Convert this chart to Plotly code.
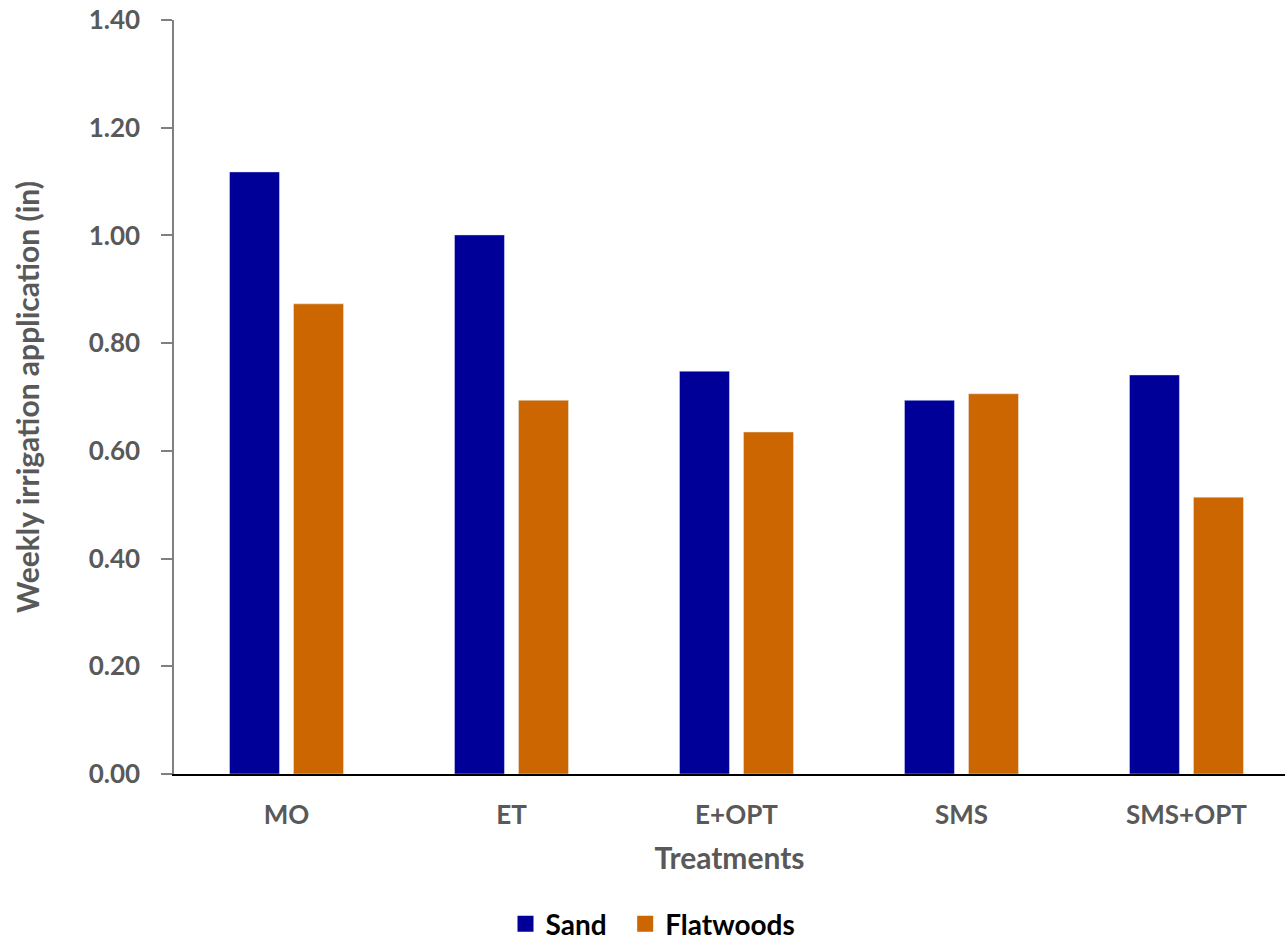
import plotly.graph_objects as go

# Weekly irrigation application by treatment and soil type
treatments = ["MO", "ET", "E+OPT", "SMS", "SMS+OPT"]
sand = [1.118, 1.001, 0.748, 0.694, 0.741]
flatwoods = [0.873, 0.694, 0.635, 0.706, 0.514]
y_ticks = [0.0, 0.2, 0.4, 0.6, 0.8, 1.0, 1.2, 1.4]

FONT = "Lato, Open Sans, sans-serif"
GRAY = "#595959"
SAND_COLOR = "#000099"
FLAT_COLOR = "#CC6600"

fig = go.Figure()
fig.add_trace(go.Bar(name="Sand", x=treatments, y=sand, marker_color=SAND_COLOR, showlegend=False))
fig.add_trace(go.Bar(name="Flatwoods", x=treatments, y=flatwoods, marker_color=FLAT_COLOR, showlegend=False))

# legend entries with larger square swatches (padded with no-break spaces for spacing)
for name, color in [("Sand\u00a0\u00a0", SAND_COLOR), ("Flatwoods", FLAT_COLOR)]:
    fig.add_trace(go.Scatter(
        x=[None], y=[None], mode="markers", name=name,
        marker=dict(symbol="square", size=16, color=color),
    ))

fig.update_layout(
    width=1285,
    height=940,
    margin=dict(l=174, r=0, t=20, b=166, autoexpand=False),
    plot_bgcolor="white",
    paper_bgcolor="white",
    barmode="group",
    bargap=0.431,
    bargroupgap=0.219,
    font=dict(family=FONT, color=GRAY),
    showlegend=True,
    legend=dict(
        orientation="h",
        x=653 / 1285,
        xanchor="center",
        xref="container",
        yref="container",
        y=16 / 940,
        yanchor="middle",
        font=dict(size=28, color="#000000", family=FONT, weight="bold"),
        itemwidth=30,
    ),
)

fig.update_xaxes(
    range=[-0.5, 4.438],
    showline=True,
    linecolor="#000000",
    linewidth=2,
    ticks="",
    showgrid=False,
    tickfont=dict(size=26, color=GRAY, family=FONT, weight="bold"),
    ticklabelstandoff=17,
    title=dict(text="Treatments", font=dict(size=30, color=GRAY, family=FONT, weight="bold"), standoff=19),
)

fig.update_yaxes(
    range=[0, 1.4],
    tickvals=y_ticks,
    ticktext=[f"{v:.2f}" for v in y_ticks],
    showline=True,
    linecolor="#808080",
    linewidth=1.5,
    ticks="outside",
    ticklen=11,
    tickcolor="#808080",
    tickwidth=1.5,
    showgrid=False,
    zeroline=False,
    tickfont=dict(size=26, color=GRAY, family=FONT, weight="bold"),
    ticklabelstandoff=16,
    title=dict(text="Weekly irrigation application (in)", font=dict(size=30, color=GRAY, family=FONT, weight="bold"), standoff=40),
)

fig.write_html("out.html")
